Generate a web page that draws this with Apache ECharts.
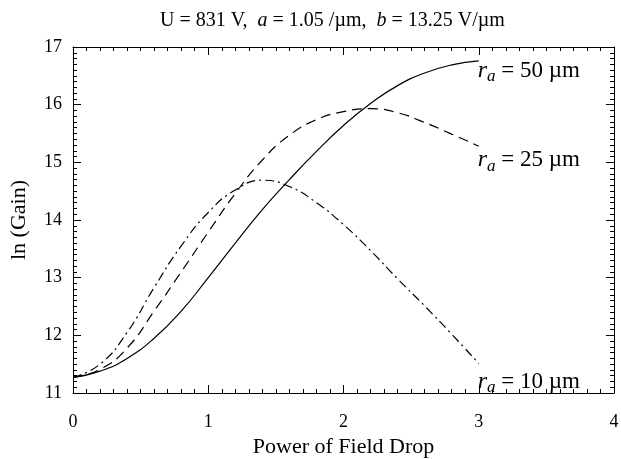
<!DOCTYPE html>
<html>
<head>
<meta charset="utf-8">
<title>ln (Gain)</title>
<script src="https://cdn.jsdelivr.net/npm/echarts@6/dist/echarts.min.js"></script>
<style>
  html, body { margin: 0; padding: 0; background: #fff; }
  #main { width: 621px; height: 459px; }
</style>
</head>
<body>
<div id="main"></div>
<script type="text/javascript">
// power of field drop
var xs = [0, 0.2, 0.4, 0.6, 0.8, 1.0, 1.2, 1.4, 1.6, 1.8, 2.0, 2.2, 2.4, 2.6, 2.8, 3.0];
// ln(gain) for each anode radius
var ra50 = [11.27, 11.38, 11.60, 11.95, 12.42, 13.00, 13.60, 14.18, 14.70, 15.19, 15.64, 16.02, 16.33, 16.55, 16.69, 16.76];
var ra25 = [11.27, 11.41, 11.78, 12.42, 13.10, 13.79, 14.46, 15.04, 15.47, 15.74, 15.88, 15.93, 15.86, 15.69, 15.49, 15.28];
var ra10 = [11.27, 11.50, 12.05, 12.83, 13.55, 14.13, 14.52, 14.69, 14.58, 14.30, 13.92, 13.47, 12.98, 12.51, 12.02, 11.51];

var FONT = 'Liberation Serif';

function pairs(ys) {
    return xs.map(function (x, i) { return [x, ys[i]]; });
}

var labelRich = {
    r: { fontFamily: FONT, fontStyle: 'italic', fontSize: 24, color: '#000' },
    a: { fontFamily: FONT, fontStyle: 'italic', fontSize: 17, color: '#000', padding: [12, 0, 0, 0] },
    n: { fontFamily: FONT, fontSize: 23, color: '#000' }
};

function endLabel(txt, dy) {
    return {
        show: true,
        formatter: '{r|r}{a|a}{n| = ' + txt + '}',
        rich: labelRich,
        offset: [-9, dy]
    };
}

function axisCommon(show, margin) {
    return {
        axisLine: { show: true, onZero: false, lineStyle: { color: '#000', width: 1 } },
        axisTick: { show: true, inside: true, length: 8, lineStyle: { color: '#000' } },
        minorTick: { show: true, splitNumber: 10, length: 4, lineStyle: { color: '#000' } },
        splitLine: { show: false },
        axisLabel: { show: show, fontFamily: FONT, fontSize: 18, color: '#000', margin: margin }
    };
}

var myChart = echarts.init(document.getElementById('main'));

var option = {
    backgroundColor: '#fff',
    animation: false,
    title: {
        text: '{n|U = 831 V,  }{i|a}{n| = 1.05 /µm,  }{i|b}{n| = 13.25 V/µm}',
        left: 155,
        top: 6,
        textStyle: {
            rich: {
                n: { fontFamily: FONT, fontSize: 20, fontWeight: 'normal', color: '#000' },
                i: { fontFamily: FONT, fontSize: 20, fontWeight: 'normal', fontStyle: 'italic', color: '#000' }
            }
        }
    },
    grid: { left: 73, right: 7, top: 47, bottom: 66, containLabel: false, outerBoundsMode: 'none' },
    xAxis: [
        Object.assign({
            type: 'value', min: 0, max: 4, interval: 1, position: 'bottom',
            name: 'Power of Field Drop', nameLocation: 'middle', nameGap: 43,
            nameTextStyle: { fontFamily: FONT, fontSize: 22, color: '#000' }
        }, axisCommon(true, 20)),
        Object.assign({
            type: 'value', min: 0, max: 4, interval: 1, position: 'top'
        }, axisCommon(false, 8))
    ],
    yAxis: [
        Object.assign({
            type: 'value', min: 11, max: 17, interval: 1, position: 'left',
            name: 'ln (Gain)', nameLocation: 'middle', nameGap: 43,
            nameTextStyle: { fontFamily: FONT, fontSize: 22, color: '#000' }
        }, axisCommon(true, 11)),
        Object.assign({
            type: 'value', min: 11, max: 17, interval: 1, position: 'right'
        }, axisCommon(false, 8))
    ],
    series: [
        {
            name: '50', type: 'line', smooth: 0.5, showSymbol: false,
            data: pairs(ra50),
            lineStyle: { color: '#000', width: 1.2, type: 'solid' },
            endLabel: endLabel('50 µm', 10)
        },
        {
            name: '25', type: 'line', smooth: 0.5, showSymbol: false,
            data: pairs(ra25),
            lineStyle: { color: '#000', width: 1.2, type: [10, 6] },
            endLabel: endLabel('25 µm', 14)
        },
        {
            name: '10', type: 'line', smooth: 0.5, showSymbol: false,
            data: pairs(ra10),
            lineStyle: { color: '#000', width: 1.2, type: [9, 4, 2, 4] },
            endLabel: endLabel('10 µm', 18)
        }
    ]
};

myChart.setOption(option);
window.addEventListener('resize', function () {
    myChart.resize();
});
</script>
</body>
</html>
